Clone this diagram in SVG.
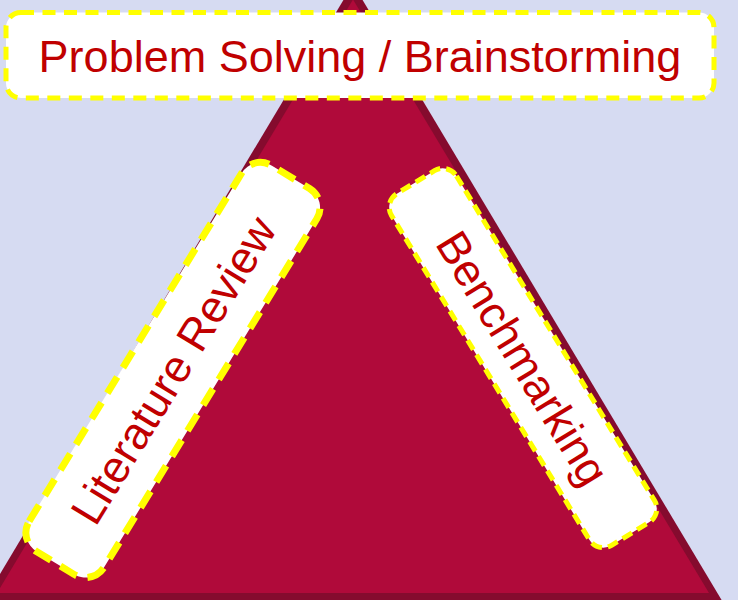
<svg xmlns="http://www.w3.org/2000/svg" width="738" height="600" viewBox="0 0 738 600">
  <style>
    .box { fill: #ffffff; stroke: #ffff00; }
    .lbl { font-family: "Liberation Sans", Arial, sans-serif; font-size: 45px; fill: #c00000; text-anchor: middle; }
  </style>
  <rect x="0" y="0" width="738" height="600" fill="#d6dbf2"/>
  <g id="triangle">
    <polygon points="353,-16 721.6,600 -15.6,600" fill="#850b2e"/>
    <polygon points="353,-0.5 709,593 -3,593" fill="#b00a3a"/>
  </g>
  <g id="node-top">
    <rect class="box" x="6" y="12.5" width="708" height="85.5" rx="15" stroke-width="5" stroke-dasharray="13 8.5"/>
    <text class="lbl" x="360" y="72">Problem Solving / Brainstorming</text>
  </g>
  <g id="node-literature" transform="translate(173,370) rotate(-58.6)">
    <rect class="box" x="-226" y="-44" width="452" height="88" rx="22" stroke-width="7" stroke-dasharray="19 11"/>
    <text class="lbl" x="0" y="16">Literature Review</text>
  </g>
  <g id="node-benchmarking" transform="translate(523,358) rotate(58.6)">
    <rect class="box" x="-206" y="-38" width="412" height="76" rx="16" stroke-width="5" stroke-dasharray="11 6"/>
    <text class="lbl" x="0" y="16">Benchmarking</text>
  </g>
  <g id="connectors"></g>
</svg>
